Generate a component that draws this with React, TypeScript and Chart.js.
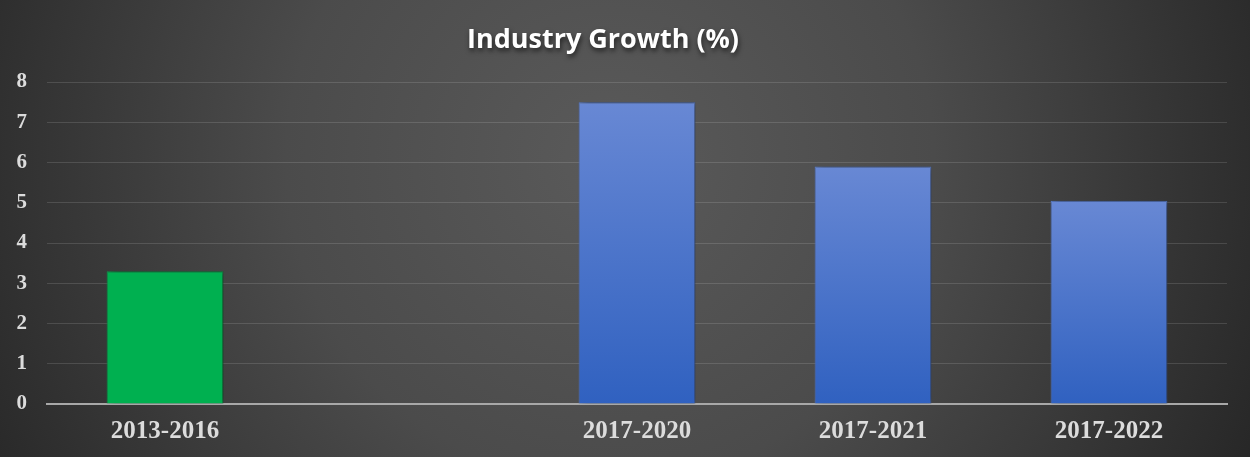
import React, { useEffect, useRef } from "react";
import { Chart, registerables } from "chart.js";

Chart.register(...registerables);

const categories: string[] = ["2013-2016", "", "2017-2020", "2017-2021", "2017-2022"];
const growthValues: (number | null)[] = [3.3, null, 7.5, 5.9, 5.05];
const barKinds: string[] = ["green", "none", "blue", "blue", "blue"];
const yTicks: number[] = [0, 1, 2, 3, 4, 5, 6, 7, 8];
const titleText = "Industry Growth (%)";

const bgPlugin = {
  id: "bgPlugin",
  beforeDraw(chart: any) {
    const { ctx, width, height } = chart;
    ctx.save();
    const g = ctx.createRadialGradient(610, 160, 0, 610, 160, 720);
    g.addColorStop(0, "#5a5a5a");
    g.addColorStop(0.45, "#4b4b4b");
    g.addColorStop(1, "#262626");
    ctx.fillStyle = g;
    ctx.fillRect(0, 0, width, height);
    ctx.restore();
  },
  beforeDatasetsDraw(chart: any) {
    const ctx = chart.ctx;
    ctx.save();
    ctx.shadowColor = "rgba(0,0,0,0.55)";
    ctx.shadowBlur = 7;
    ctx.shadowOffsetX = 3;
    ctx.shadowOffsetY = 0;
  },
  afterDatasetsDraw(chart: any) {
    chart.ctx.restore();
  },
  afterDraw(chart: any) {
    const ctx = chart.ctx;
    ctx.save();
    ctx.font = "bold 27px 'Open Sans', sans-serif";
    ctx.textAlign = "center";
    ctx.textBaseline = "alphabetic";
    ctx.shadowColor = "rgba(0,0,0,0.6)";
    ctx.shadowBlur = 5;
    ctx.shadowOffsetX = 1;
    ctx.shadowOffsetY = 3;
    ctx.fillStyle = "#ffffff";
    ctx.fillText(titleText, 603, 48);
    ctx.restore();
  },
};

export default function App() {
  const ref = useRef<HTMLCanvasElement | null>(null);
  useEffect(() => {
    if (!ref.current) return;
    const chart = new Chart(ref.current, {
      type: "bar",
      data: {
        labels: categories,
        datasets: [
          {
            data: growthValues,
            backgroundColor: (c: any) => {
              const kind = barKinds[c.dataIndex];
              if (kind === "green") return "#00b050";
              const chartObj = c.chart;
              const ys = chartObj.scales && chartObj.scales.y;
              const v = c.raw;
              if (!ys || v == null) return "#4a74cc";
              const top = ys.getPixelForValue(v);
              const bottom = ys.getPixelForValue(0);
              const g = chartObj.ctx.createLinearGradient(0, top, 0, bottom);
              g.addColorStop(0, "#6888d4");
              g.addColorStop(1, "#3061c0");
              return g;
            },
            borderColor: (c: any) => (barKinds[c.dataIndex] === "green" ? "#129a4c" : "#5a7fcf"),
            borderWidth: 1,
            categoryPercentage: 1,
            barPercentage: 0.495,
          },
        ],
      },
      options: {
        responsive: false,
        animation: false,
        layout: { padding: { top: 82, right: 23, bottom: -3, left: 0 } },
        plugins: {
          legend: { display: false },
          title: { display: false },
          tooltip: { enabled: false },
        },
        scales: {
          x: {
            grid: { display: false, drawTicks: false },
            border: { display: true, color: "#a8a8a8", width: 2 },
            ticks: {
              color: "#dcdcdc",
              padding: 13,
              font: { family: "'Liberation Serif', 'Times New Roman', serif", weight: "bold", size: 25 },
            },
          },
          y: {
            min: 0,
            max: 8,
            afterBuildTicks: (s: any) => {
              s.ticks = yTicks.map((v) => ({ value: v }));
            },
            afterFit: (s: any) => {
              s.width = 47;
            },
            grid: { color: "rgba(255,255,255,0.13)", lineWidth: 1, drawTicks: false },
            border: { display: false },
            ticks: {
              color: "#dcdcdc",
              padding: 20,
              font: { family: "'Liberation Serif', 'Times New Roman', serif", weight: "bold", size: 21 },
            },
          },
        },
      } as any,
      plugins: [bgPlugin],
    });
    return () => chart.destroy();
  }, []);
  return (
    <div style={{ position: "fixed", left: 0, top: 0, width: 1250, height: 457 }}>
      <canvas ref={ref} width={1250} height={457} style={{ display: "block", width: 1250, height: 457 }} />
    </div>
  );
}
